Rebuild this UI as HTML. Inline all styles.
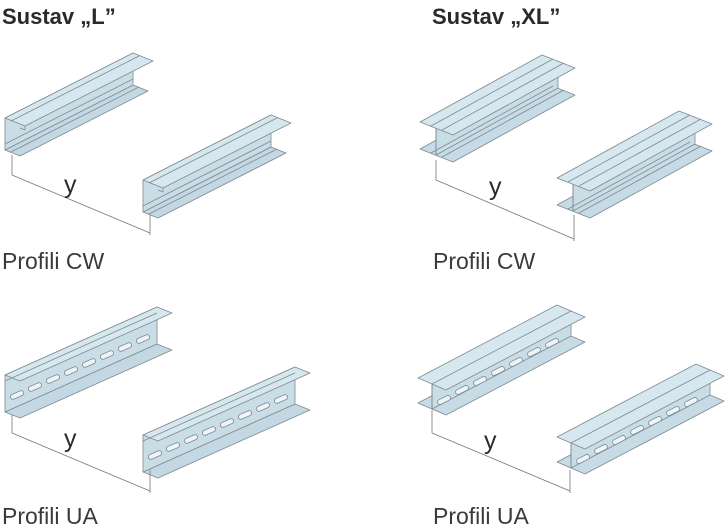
<!DOCTYPE html>
<html><head><meta charset="utf-8"><style>
html,body{margin:0;padding:0;background:#fff;width:725px;height:531px;overflow:hidden}
svg{display:block}
.t{font-family:"Liberation Sans",sans-serif;fill:#2a2a2a}
.l{fill:#3a3a3a}
</style></head><body>
<svg width="725" height="531" viewBox="0 0 725 531" xmlns="http://www.w3.org/2000/svg">
<defs>
<g id="cw" stroke="#7d8a90" stroke-width="0.8" stroke-linejoin="round">
  <polygon points="0,32 128,-33 143,-27 15,38" fill="#c3d8e2"/>
  <polygon points="0,0 128,-65 128,-33 0,32" fill="#c9dde7"/>
  <polygon points="0,0 128,-65 148,-57 20,8" fill="#d6e7ef"/>
  <polyline points="20,8 20,12 15,10" fill="none"/>
  <line x1="6" y1="3" x2="134" y2="-62" />
  <line x1="0" y1="26" x2="128" y2="-39"/>
  <line x1="6" y1="34" x2="134" y2="-31"/>
</g>
<g id="xl" stroke="#7d8a90" stroke-width="0.8" stroke-linejoin="round">
  <polygon points="0,27 122,-40 155,-27 33,40" fill="#c6dbe5"/>
  <polygon points="16,6 138,-61 138,-34 16,33" fill="#c9dde7"/>
  <polygon points="0,0 122,-67 155,-54 33,13" fill="#d6e7ef"/>
  <line x1="16" y1="6" x2="16" y2="33"/>
  <line x1="11" y1="4" x2="133" y2="-63"/>
  <line x1="22" y1="8" x2="144" y2="-59"/>
  <line x1="11" y1="31" x2="133" y2="-36"/>
  <line x1="22" y1="35" x2="144" y2="-32"/>
</g>
<g id="ua" stroke="#7d8a90" stroke-width="0.8" stroke-linejoin="round">
  <polygon points="0,37 152,-31 167,-25 15,43" fill="#c3d8e2"/>
  <polygon points="0,0 152,-68 152,-31 0,37" fill="#c9dde7"/>
  <polygon points="0,0 152,-68 167,-62 15,6" fill="#d6e7ef"/>
  <line x1="0" y1="6" x2="152" y2="-62"/>
  <g fill="#eef5f8">
    <rect x="-7" y="-2.5" width="14" height="5" rx="2.5" transform="translate(12,20) rotate(-24)"/>
    <rect x="-7" y="-2.5" width="14" height="5" rx="2.5" transform="translate(30,12) rotate(-24)"/>
    <rect x="-7" y="-2.5" width="14" height="5" rx="2.5" transform="translate(48,4) rotate(-24)"/>
    <rect x="-7" y="-2.5" width="14" height="5" rx="2.5" transform="translate(66,-4) rotate(-24)"/>
    <rect x="-7" y="-2.5" width="14" height="5" rx="2.5" transform="translate(84,-12) rotate(-24)"/>
    <rect x="-7" y="-2.5" width="14" height="5" rx="2.5" transform="translate(102,-20) rotate(-24)"/>
    <rect x="-7" y="-2.5" width="14" height="5" rx="2.5" transform="translate(120,-28) rotate(-24)"/>
    <rect x="-7" y="-2.5" width="14" height="5" rx="2.5" transform="translate(138,-36) rotate(-24)"/>
  </g>
</g>
<g id="xua" stroke="#7d8a90" stroke-width="0.8" stroke-linejoin="round">
  <polygon points="0,25 139,-48 167,-36 28,37" fill="#c6dbe5"/>
  <polygon points="14,6 153,-67 153,-42 14,31" fill="#c9dde7"/>
  <g fill="#eef5f8">
    <rect x="-7" y="-2.5" width="14" height="5" rx="2.5" transform="translate(26,22) rotate(-27)"/>
    <rect x="-7" y="-2.5" width="14" height="5" rx="2.5" transform="translate(44,12) rotate(-27)"/>
    <rect x="-7" y="-2.5" width="14" height="5" rx="2.5" transform="translate(62,3) rotate(-27)"/>
    <rect x="-7" y="-2.5" width="14" height="5" rx="2.5" transform="translate(80,-7) rotate(-27)"/>
    <rect x="-7" y="-2.5" width="14" height="5" rx="2.5" transform="translate(98,-16) rotate(-27)"/>
    <rect x="-7" y="-2.5" width="14" height="5" rx="2.5" transform="translate(116,-26) rotate(-27)"/>
    <rect x="-7" y="-2.5" width="14" height="5" rx="2.5" transform="translate(134,-35) rotate(-27)"/>
  </g>
  <polygon points="0,0 139,-73 167,-61 28,12" fill="#d6e7ef"/>
  <line x1="14" y1="6" x2="14" y2="31"/>
  <line x1="14" y1="6" x2="153" y2="-67"/>
</g>
</defs>

<text class="t" x="2" y="24" font-size="22" font-weight="bold">Sustav „L”</text>
<text class="t" x="432" y="24" font-size="22" font-weight="bold">Sustav „XL”</text>

<use href="#cw" x="5" y="118"/>
<use href="#cw" x="143" y="180"/>
<g stroke="#777" stroke-width="0.8" fill="none">
  <line x1="12" y1="155" x2="12" y2="175"/><line x1="12" y1="175" x2="150" y2="233"/><line x1="150" y1="215" x2="150" y2="235"/>
</g>
<text class="t" x="64" y="193" font-size="25">y</text>

<use href="#xl" x="420" y="122"/>
<use href="#xl" x="557" y="178"/>
<g stroke="#777" stroke-width="0.8" fill="none">
  <line x1="436" y1="160" x2="436" y2="180"/><line x1="436" y1="180" x2="574" y2="239"/><line x1="574" y1="215" x2="574" y2="241"/>
</g>
<text class="t" x="489" y="195" font-size="25">y</text>

<text class="t l" x="2" y="269" font-size="23">Profili CW</text>
<text class="t l" x="433" y="269" font-size="23">Profili CW</text>

<use href="#ua" x="5" y="375"/>
<use href="#ua" x="143" y="435"/>
<g stroke="#777" stroke-width="0.8" fill="none">
  <line x1="12" y1="415" x2="12" y2="433"/><line x1="12" y1="433" x2="150" y2="491"/><line x1="150" y1="470" x2="150" y2="493"/>
</g>
<text class="t" x="64" y="447" font-size="25">y</text>

<use href="#xua" x="418" y="378"/>
<use href="#xua" x="557" y="437"/>
<g stroke="#777" stroke-width="0.8" fill="none">
  <line x1="432" y1="410" x2="432" y2="433"/><line x1="432" y1="433" x2="570" y2="491"/><line x1="570" y1="470" x2="570" y2="493"/>
</g>
<text class="t" x="484" y="449" font-size="25">y</text>

<text class="t l" x="2" y="524" font-size="23">Profili UA</text>
<text class="t l" x="433" y="524" font-size="23">Profili UA</text>
</svg>
</body></html>
